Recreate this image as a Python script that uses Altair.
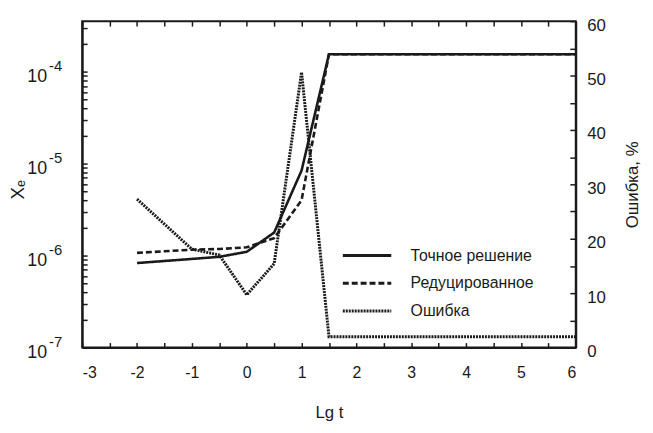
import altair as alt
import pandas as pd

# ---- data ----
lgt = [-2, -1, -0.5, 0, 0.5, 1, 1.5, 2, 3, 4, 5, 6]
exact = [8.3e-7, 9.2e-7, 9.7e-7, 1.10e-6, 1.78e-6, 8.4e-6, 1.55e-4, 1.55e-4, 1.55e-4, 1.55e-4, 1.55e-4, 1.55e-4]
reduced = [1.07e-6, 1.16e-6, 1.18e-6, 1.23e-6, 1.55e-6, 4.0e-6, 1.55e-4, 1.55e-4, 1.55e-4, 1.55e-4, 1.55e-4, 1.55e-4]
error = [27.3, 18.1, 17.0, 9.7, 15.4, 50.6, 2.0, 2.0, 2.0, 2.0, 2.0, 2.0]

names = ["Точное решение", "Редуцированное", "Ошибка"]
x_ticks = [-3 + 0.5 * i for i in range(19)]
y_left_ticks = [m * 10.0 ** e for e in range(-7, -3) for m in range(1, 10) if m * 10.0 ** e <= 3.5e-4]
y_major = [1e-7, 1e-6, 1e-5, 1e-4]
y_right_ticks = list(range(0, 65, 5))

FONT = "Liberation Sans"
INK = "#1a1a1a"
Y_DOMAIN = [1e-7, 10 ** -3.45]
X_DOMAIN = [-3, 6]

xe = pd.DataFrame({"lgt": lgt * 2, "val": exact + reduced,
                   "series": [names[0]] * len(lgt) + [names[1]] * len(lgt)})
er = pd.DataFrame({"lgt": lgt, "val": error, "series": [names[2]] * len(lgt)})

dash = alt.StrokeDash(
    "series:N",
    scale=alt.Scale(domain=names, range=[[1, 0], [6, 3], [2, 1]]),
    legend=alt.Legend(
        title=None, orient="none", legendX=262, legendY=228,
        symbolType="stroke", symbolSize=2400, symbolStrokeWidth=3,
        symbolStrokeColor=INK, labelFontSize=16, labelFont=FONT, labelColor=INK,
        labelOffset=18, rowPadding=10, clipHeight=18,
    ),
)

x_enc = alt.X(
    "lgt:Q",
    scale=alt.Scale(domain=X_DOMAIN, nice=False),
    axis=alt.Axis(
        title="Lg t", values=x_ticks,
        labelExpr="datum.value % 1 == 0 ? (datum.value < 0 ? '-' : '') + abs(datum.value) : ''",
        tickSize=alt.ExprRef(expr="-5"), labelPadding=22, grid=False,
        labelFontSize=16, titleFontSize=17, titlePadding=25,
    ),
)

left = alt.Chart(xe).mark_line(strokeWidth=2.6, color=INK).encode(
    x=x_enc,
    y=alt.Y(
        "val:Q",
        scale=alt.Scale(type="log", domain=Y_DOMAIN, nice=False),
        axis=alt.Axis(
            title="Xₑ", values=y_left_ticks,
            labelExpr="abs(log(datum.value)/LN10 - round(log(datum.value)/LN10)) < 1e-6 ? '10' : ''",
            tickSize=alt.ExprRef(expr="-5"), labelPadding=41, grid=False,
            labelFontSize=18, titleFontSize=19, titleX=-65, titleY=170,
            titleBaseline="middle", labelOffset=5,
        ),
    ),
    strokeDash=dash,
)

# superscript exponents for the left axis labels, and the ticks on the top edge
sup = alt.Chart(xe).mark_line(opacity=0).encode(
    x=alt.X(
        "lgt:Q",
        scale=alt.Scale(domain=X_DOMAIN, nice=False),
        axis=alt.Axis(
            orient="top", title=None, values=x_ticks, labels=False,
            tickSize=alt.ExprRef(expr="-5"), domain=False, grid=False,
        ),
    ),
    y=alt.Y(
        "val:Q",
        scale=alt.Scale(type="log", domain=Y_DOMAIN, nice=False),
        axis=alt.Axis(
            title=None, orient="left", values=y_major,
            labelExpr="'-' + format(-round(log(datum.value)/LN10), 'd')",
            ticks=False, tickSize=0, domain=False, grid=False,
            labelAlign="left", labelPadding=34, labelFontSize=15, labelOffset=-6,
        ),
    ),
)

right = alt.Chart(er).mark_line(strokeWidth=3, color=INK).encode(
    x=alt.X("lgt:Q", scale=alt.Scale(domain=X_DOMAIN, nice=False), axis=None),
    y=alt.Y(
        "val:Q",
        scale=alt.Scale(domain=[0, 60], nice=False),
        axis=alt.Axis(
            title="Ошибка, %", orient="right", values=y_right_ticks,
            labelExpr="datum.value % 10 == 0 ? datum.label : ''",
            tickSize=alt.ExprRef(expr="-6"), labelPadding=17, grid=False,
            labelFontSize=17, titleFontSize=17, titleAngle=270, titlePadding=37,
            labelOffset=4,
        ),
    ),
    strokeDash=dash,
)

chart = (
    alt.layer(left, right, sup)
    .resolve_scale(y="independent")
    .resolve_axis(x="independent")
    .properties(
        width=499, height=330,
        autosize=alt.AutoSizeParams(type="none"),
        padding={"left": 75, "top": 11, "right": 70, "bottom": 75},
        background="white",
    )
    .configure_view(stroke=INK, strokeWidth=2)
    .configure_axis(
        labelFont=FONT, titleFont=FONT, labelColor=INK, titleColor=INK,
        domainColor=INK, domainWidth=2, tickColor=INK, tickWidth=1.5,
        titleFontWeight="normal",
    )
)

chart.save("out.html", embed_options={"renderer": "svg", "actions": False})
